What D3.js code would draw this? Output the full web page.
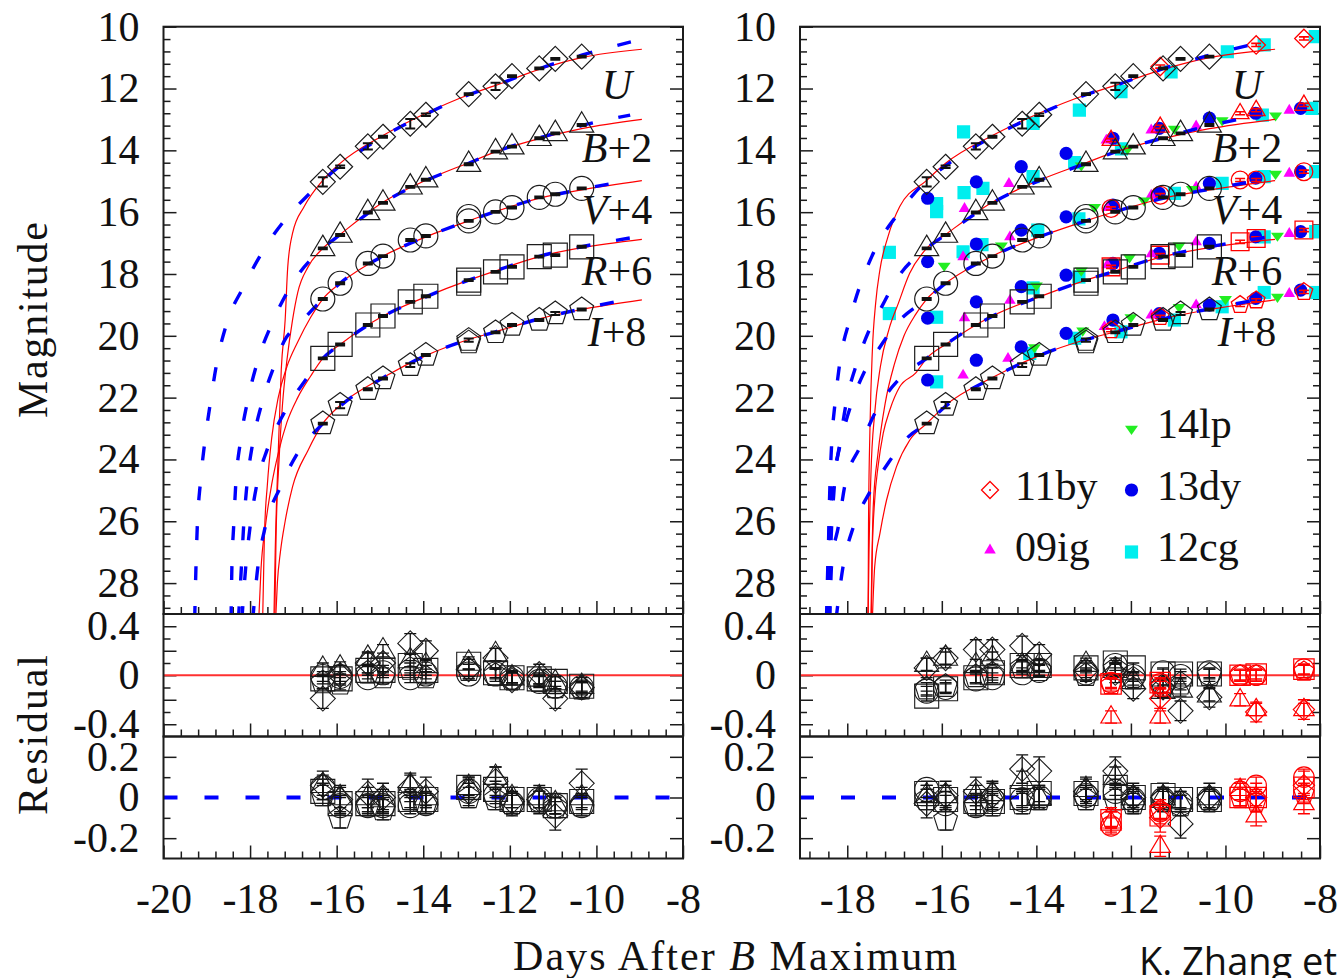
<!DOCTYPE html>
<html><head><meta charset="utf-8">
<script src="https://cdn.jsdelivr.net/npm/d3@7"></script>
<style>
body{margin:0;background:#fff}
svg{display:block}
text{font-family:"Liberation Serif",serif;fill:#111}
</style></head>
<body><svg id="c" width="1339" height="978"></svg>
<script>
// ---------------- DATA ----------------
const bandNames = ["U", "B", "V", "R", "I"];
const bandOffsets = ["", "+2", "+4", "+6", "+8"];
const xTickLeft = [-20, -18, -16, -14, -12, -10, -8];
const xTickRight = [-18, -16, -14, -12, -10, -8];
const yTickMain = [10, 12, 14, 16, 18, 20, 22, 24, 26, 28];
const yTickRes1 = [0.4, 0, -0.4];
const yTickRes2 = [0.2, 0, -0.2];

// black SN (shifted magnitudes as plotted)
const tBlack = [-16.32, -15.92, -15.28, -14.93, -14.30, -13.94, -12.95, -12.33, -11.95, -11.32, -10.95, -10.34];
const magU  = [15.02, 14.53, 13.87, 13.56, 13.14, 12.85, 12.18, 11.93, 11.60, 11.35, 11.04, 10.97];
const magB2 = [17.17, 16.74, 16.01, 15.70, 15.18, 14.95, 14.45, 14.04, 13.88, 13.61, 13.45, 13.18];
const magV4 = [18.81, 18.30, 17.66, 17.42, 16.90, 16.77, 16.28, 15.99, 15.85, 15.52, 15.42, 15.23];
const magR6 = [20.73, 20.28, 19.65, 19.36, 18.90, 18.72, 18.20, 17.93, 17.77, 17.44, 17.39, 17.12];
const magI8 = [22.84, 22.24, 21.73, 21.38, 20.95, 20.62, 20.14, 19.89, 19.65, 19.49, 19.28, 19.15];
const errU  = [0.15, 0.04, 0.10, 0.03, 0.15, 0.04, 0.03, 0.12, 0.03, 0.03, 0.03, 0.03];
const errB2 = [0.03, 0.03, 0.03, 0.03, 0.03, 0.03, 0.03, 0.03, 0.03, 0.03, 0.03, 0.03];
const errV4 = [0.03, 0.03, 0.03, 0.03, 0.03, 0.03, 0.03, 0.03, 0.03, 0.03, 0.03, 0.03];
const errR6 = [0.03, 0.03, 0.03, 0.03, 0.03, 0.03, 0.03, 0.03, 0.03, 0.03, 0.03, 0.03];
const errI8 = [0.03, 0.10, 0.03, 0.03, 0.06, 0.03, 0.05, 0.03, 0.03, 0.03, 0.05, 0.03];
const dupT = [-12.95, -12.95, -12.95];
const dupBand = [2, 3, 4];
const dupMag = [16.14, 18.30, 20.22];

// comparison SNe (right panel)
const t12cg = [-17.11,-17.11,-16.11,-16.11,-16.11,-16.11,-15.54,-15.53,-15.13,-15.55,-15.15,-14.07,-14.07,-13.97,-14.07,-14.14,-13.09,-13.19,-13.10,-13.10,-13.19,-12.21,-12.20,-12.21,-11.15,-11.08,-11.08,-9.96,-10.07,-10.07,-9.18,-9.22,-9.18,-9.18,-9.18,-8.10,-8.17,-8.09,-8.09,-8.09];
const m12cg = [17.30,19.28,15.72,15.98,19.40,21.49,13.40,15.37,15.23,17.28,17.05,13.13,14.85,16.58,18.45,20.57,12.70,14.40,16.22,18.10,20.08,12.10,13.95,19.87,11.46,15.39,19.49,10.81,15.07,19.06,10.59,12.86,14.85,16.80,18.60,10.32,12.64,14.69,16.63,18.60];
const t13dy = [-16.30,-15.27,-14.32,-13.37,-12.38,-11.40,-10.34,-9.36,-8.41];
const m13dyB = [15.55, 15.02, 14.53, 14.10, 13.61, 13.29, 12.96, 12.80, 12.64];
const m13dyV = [17.60, 17.03, 16.58, 16.15, 15.77, 15.39, 15.07, 14.90, 14.69];
const m13dyR = [19.43, 18.90, 18.41, 18.04, 17.66, 17.33, 17.01, 16.80, 16.63];
const m13dyI = [21.43, 20.79, 20.36, 19.92, 19.49, 19.28, 19.01, 18.79, 18.52];
const t09ig = [-15.52,-14.58,-15.55,-14.56,-15.52,-14.56,-15.55,-14.60,-12.52,-11.57,-10.62,-8.65,-12.50,-11.57,-10.62,-8.65,-12.50,-11.57,-10.62,-8.65,-12.56,-11.57,-10.62,-8.65];
const m09ig = [15.88,15.07,17.44,16.80,19.42,18.85,21.27,20.73,13.67,13.34,13.21,12.70,15.85,15.45,15.18,14.74,17.70,17.35,16.96,16.69,19.70,19.33,19.00,18.63];
const t14lp = [-15.95,-14.74,-14.00,-14.04,-13.05,-12.07,-11.08,-10.07,-8.94,-12.77,-11.72,-10.70,-8.94,-13.05,-12.03,-10.98,-8.90,-13.02,-12.00,-10.98,-10.00,-8.90];
const m14lp = [17.77,17.12,18.41,20.41,14.53,13.99,13.34,13.07,12.91,15.87,15.66,15.29,14.80,17.93,17.50,17.12,16.80,19.87,19.44,19.11,18.85,18.78];
const t11by = [-12.42, -11.38, -9.69, -9.35, -8.34];
const m11U = [null, 11.29, null, 10.59, 10.38];
const m11B = [13.67, 13.24, 12.80, 12.70, 12.53];
const m11V = [15.88, 15.45, 14.96, 14.96, 14.69];
const m11R = [17.77, 17.39, 16.96, 16.85, 16.58];
const m11I = [19.82, 19.39, 19.00, 18.85, 18.58];

// model curves: [day, magnitude]
const redUpU = [[-8.95,10.73],[-10.34,11.0],[-11.32,11.38],[-12.33,11.9],[-12.95,12.2],[-13.94,12.8],[-14.93,13.52],[-15.92,14.42],[-16.32,14.97]];
const redUpB = [[-8.95,13.0],[-10.34,13.3],[-11.32,13.62],[-12.33,14.05],[-12.95,14.4],[-13.94,14.97],[-14.93,15.68],[-15.92,16.72],[-16.32,17.17]];
const redUpV = [[-8.95,14.98],[-10.34,15.28],[-11.32,15.55],[-12.33,15.98],[-12.95,16.28],[-13.94,16.8],[-14.93,17.42],[-15.92,18.3],[-16.32,18.81]];
const redUpR = [[-8.95,16.88],[-10.34,17.15],[-11.32,17.44],[-12.33,17.9],[-12.95,18.2],[-13.94,18.74],[-14.93,19.36],[-15.92,20.28],[-16.32,20.73]];
const redUpI = [[-8.95,18.84],[-10.34,19.15],[-11.32,19.45],[-12.33,19.87],[-12.95,20.12],[-13.94,20.64],[-14.93,21.35],[-15.92,22.25],[-16.32,22.84]];
const blueUpU = [[-9.17,10.48],[-10.34,10.92],[-11.32,11.36],[-12.33,11.9],[-12.95,12.2],[-13.94,12.83],[-14.93,13.56],[-15.92,14.5],[-16.32,14.98]];
const blueUpB = [[-9.22,12.86],[-10.34,13.2],[-11.32,13.6],[-12.33,14.05],[-12.95,14.42],[-13.94,14.98],[-14.93,15.7],[-15.92,16.73],[-16.32,17.17]];
const blueUpV = [[-9.22,14.96],[-10.34,15.26],[-11.32,15.55],[-12.33,15.98],[-12.95,16.28],[-13.94,16.8],[-14.93,17.42],[-15.92,18.3],[-16.32,18.81]];
const blueUpR = [[-9.17,16.82],[-10.34,17.12],[-11.32,17.43],[-12.33,17.9],[-12.95,18.2],[-13.94,18.74],[-14.93,19.37],[-15.92,20.28],[-16.32,20.73]];
const blueUpI = [[-9.17,18.79],[-10.34,19.13],[-11.32,19.45],[-12.33,19.87],[-12.95,20.12],[-13.94,20.64],[-14.93,21.36],[-15.92,22.28],[-16.32,22.84]];

const redLowLeft = [
  [[-16.75,15.82],[-17.02,16.69],[-17.13,17.77],[-17.19,19.49],[-17.28,21.1],[-17.35,23.8],[-17.42,27.0],[-17.45,29.2]],
  [[-16.66,17.77],[-16.9,18.6],[-17.02,19.49],[-17.15,20.8],[-17.25,22.2],[-17.33,24],[-17.4,26.5],[-17.43,29.2]],
  [[-16.6,19.4],[-16.9,20.2],[-17.15,21.0],[-17.35,22.0],[-17.5,23.3],[-17.6,24.8],[-17.67,26.5],[-17.71,29.2]],
  [[-16.6,21.3],[-16.9,22.0],[-17.15,22.8],[-17.35,23.8],[-17.5,24.8],[-17.65,26.2],[-17.75,27.6],[-17.8,29.2]],
  [[-16.66,23.7],[-17.02,24.89],[-17.19,26.0],[-17.3,27],[-17.37,28],[-17.41,29.2]]
];
const redLowRight = [
  [[-16.89,15.82],[-17.14,16.8],[-17.31,17.87],[-17.40,18.95],[-17.47,20.5],[-17.52,23],[-17.55,26],[-17.56,29.2]],
  [[-16.68,17.98],[-16.92,18.95],[-17.12,19.8],[-17.3,21],[-17.42,22.5],[-17.5,24.5],[-17.54,27],[-17.56,29.2]],
  [[-16.55,19.3],[-16.8,20.0],[-17.0,20.9],[-17.2,22.2],[-17.35,23.8],[-17.45,25.5],[-17.5,29.2]],
  [[-16.55,21.2],[-16.89,21.65],[-17.1,22.4],[-17.24,23.16],[-17.35,24.24],[-17.42,25.32],[-17.47,26.94],[-17.49,29.2]],
  [[-16.68,23.38],[-16.96,24.24],[-17.17,25.32],[-17.31,26.4],[-17.42,27.47],[-17.47,29.2]]
];
const blueLowLeft = [
  [[-16.7,15.5],[-17.07,16.04],[-17.69,17.23],[-18.15,18.41],[-18.54,19.6],[-18.77,20.89],[-18.92,22.19],[-19.05,23.48],[-19.15,24.78],[-19.22,26.18],[-19.25,27.47],[-19.28,29.2]],
  [[-16.92,18.09],[-17.46,19.49],[-17.84,20.89],[-18.07,22.19],[-18.23,23.48],[-18.33,24.78],[-18.38,26.18],[-18.42,27.47],[-18.44,29.2]],
  [[-16.85,19.6],[-17.22,20.19],[-17.42,20.89],[-17.73,22.19],[-17.94,23.48],[-18.07,24.78],[-18.15,26.18],[-18.2,27.47],[-18.27,29.2]],
  [[-16.72,21.43],[-17.22,22.51],[-17.61,23.7],[-17.84,24.78],[-18.0,26.18],[-18.1,27.47],[-18.19,29.2]],
  [[-16.91,23.81],[-17.3,24.89],[-17.65,26.18],[-17.82,27.47],[-17.94,29.2]]
];
const blueLowRight = [
  [[-16.92,16.04],[-17.42,17.23],[-17.94,19.44],[-18.16,20.9],[-18.26,22.19],[-18.33,23.48],[-18.37,25],[-18.4,27],[-18.42,29.2]],
  [[-16.92,18.09],[-17.31,19.17],[-17.56,19.9],[-17.8,20.9],[-18.0,22.0],[-18.15,23.4],[-18.28,25],[-18.35,27],[-18.38,29.2]],
  [[-16.89,19.5],[-17.35,20.46],[-17.65,21.2],[-17.91,22.19],[-18.16,23.59],[-18.3,24.78],[-18.37,26.07],[-18.41,27.37],[-18.44,29.2]],
  [[-16.89,21.38],[-17.38,22.4],[-17.73,23.59],[-18.05,24.83],[-18.19,26.18],[-18.33,27.37],[-18.37,29.2]],
  [[-16.71,23.27],[-17.14,24.13],[-17.52,25.05],[-17.87,26.18],[-18.09,27.47],[-18.24,29.2]]
];

// residuals (rows: U,B,V,R,I over tBlack)
const res1Left = [
  [-0.19, 0.00, 0.10, 0.10, 0.26, 0.20, 0.05, 0.14, -0.04, 0.01, -0.19, -0.10],
  [0.05, 0.06, 0.14, 0.20, 0.12, 0.08, 0.10, 0.17, -0.02, -0.03, -0.06, -0.09],
  [-0.01, -0.01, -0.02, 0.02, -0.02, 0.01, 0.01, 0.01, -0.02, -0.05, -0.09, -0.10],
  [-0.03, -0.03, 0.04, 0.04, 0.08, 0.04, 0.09, 0.02, -0.02, -0.03, -0.05, -0.09],
  [-0.06, -0.07, 0.02, -0.02, 0.05, -0.02, 0.04, 0.00, -0.03, -0.05, -0.10, -0.11]
];
const res1Right = [
  [0.06, 0.14, 0.21, 0.21, 0.24, 0.17, 0.04, 0.02, -0.11, -0.10, -0.29, -0.18],
  [0.09, 0.14, 0.08, 0.14, 0.08, 0.08, 0.09, 0.04, -0.05, -0.13, -0.12, -0.16],
  [-0.13, -0.10, -0.03, -0.02, 0.02, 0.04, 0.02, 0.08, -0.01, 0.02, -0.01, 0.02],
  [-0.17, -0.11, -0.02, 0.02, 0.08, 0.08, 0.06, 0.10, 0.06, 0.01, 0.01, 0.01],
  [-0.11, -0.09, -0.01, 0.01, 0.06, 0.04, 0.00, 0.05, -0.03, -0.09, -0.07, 0.00]
];
const res2Left = [
  [0.06, -0.01, 0.02, 0.00, 0.05, 0.03, 0.03, 0.08, -0.02, -0.01, -0.09, 0.07],
  [0.06, 0.00, 0.00, -0.01, 0.06, 0.00, 0.05, 0.10, 0.00, 0.00, -0.03, 0.00],
  [0.05, -0.04, -0.04, -0.04, -0.04, -0.03, 0.03, 0.01, -0.03, -0.01, -0.04, -0.04],
  [0.03, -0.03, -0.03, -0.03, -0.01, -0.01, 0.05, 0.04, -0.01, -0.01, -0.04, -0.02],
  [0.01, -0.10, -0.04, -0.06, -0.01, -0.03, 0.00, -0.01, -0.03, -0.02, -0.05, -0.04]
];
const res2Right = [
  [-0.03, 0.01, 0.03, 0.01, 0.14, 0.13, 0.03, 0.13, 0.00, 0.00, -0.13, 0.00],
  [0.01, 0.01, 0.01, 0.02, 0.08, 0.00, 0.04, 0.10, 0.00, 0.00, -0.02, 0.00],
  [0.04, -0.03, -0.04, -0.01, -0.01, 0.00, 0.01, 0.03, -0.01, -0.01, -0.03, -0.01],
  [0.02, -0.01, -0.02, -0.02, 0.00, 0.02, 0.02, 0.05, 0.00, 0.01, -0.01, -0.01],
  [-0.01, -0.11, -0.04, -0.04, -0.03, -0.01, -0.01, -0.01, -0.03, -0.01, -0.04, -0.01]
];
const res1By = [
  [null, -0.19, null, -0.30, -0.28],
  [-0.34, -0.34, -0.20, -0.28, -0.28],
  [-0.06, -0.07, 0.00, 0.00, 0.05],
  [-0.07, -0.06, 0.00, 0.01, 0.05],
  [-0.08, -0.10, 0.00, 0.00, 0.03]
];
const res2By = [
  [null, -0.10, null, 0.00, 0.06],
  [-0.12, -0.24, 0.04, -0.09, -0.03],
  [-0.14, -0.07, 0.03, 0.06, 0.10],
  [-0.11, -0.09, 0.00, 0.00, 0.05],
  [-0.10, -0.06, 0.00, -0.02, 0.02]
];
const resErr1 = [0.08, 0.05, 0.04, 0.04, 0.05];
const resErr2 = [0.07, 0.05, 0.04, 0.04, 0.05];

// ---------------- DRAWING ----------------
const svg = d3.select("#c");
const Y0 = 26.7, Y1 = 614, Y2 = 736.5, Y3 = 858.5;
const yM = d3.scaleLinear().domain([10, 29]).range([Y0, Y1]);
const yR1 = d3.scaleLinear().domain([0.5, -0.5]).range([Y1, Y2]);
const yR2 = d3.scaleLinear().domain([0.3, -0.3]).range([Y2, Y3]);
const INK = "#1c1c1c";
const C = {red: "#ff0000", blue: "#0000ff", cyan: "#00eeee", mag: "#ff00ff", green: "#22ee22", dot: "#0000ee"};

const bandShape = ["diamond", "triangle", "circle", "square", "pentagon"];
const bandSize = [12.5, 12, 12, 12, 12.5];
const blackMags = [magU, magB2, magV4, magR6, magI8];
const blackErrs = [errU, errB2, errV4, errR6, errI8];
const by11 = [m11U, m11B, m11V, m11R, m11I];
const m13 = [m13dyB, m13dyV, m13dyR, m13dyI];

function shape(type, s) {
  switch (type) {
    case "diamond": return `M0,${-s}L${s},0L0,${s}L${-s},0Z`;
    case "square": return `M${-s},${-s}H${s}V${s}H${-s}Z`;
    case "circle": return `M${s},0A${s},${s} 0 1,1 ${-s},0A${s},${s} 0 1,1 ${s},0Z`;
    case "triangle": return `M0,${-1.1*s}L${s},${0.6*s}L${-s},${0.6*s}Z`;
    case "tridown": return `M0,${0.75*s}L${s},${-0.65*s}L${-s},${-0.65*s}Z`;
    case "pentagon": {
      const p = d3.range(5).map(k => { const a = -Math.PI/2 + k*2*Math.PI/5; return [(s*Math.cos(a)).toFixed(2), (s*Math.sin(a)).toFixed(2)]; });
      return "M" + p.map(q => q.join(",")).join("L") + "Z";
    }
  }
}
function marker(g, type, s, cx, cy, stroke, fill, sw) {
  g.append("path").attr("d", shape(type, s)).attr("transform", `translate(${cx},${cy})`)
    .attr("fill", fill || "none").attr("stroke", stroke || "none").attr("stroke-width", sw || 1.2);
}
function errBar(g, cx, yTop, yBot, capW, color, sw) {
  g.append("path").attr("d", `M${cx},${yTop}V${yBot}M${cx-capW/2},${yTop}h${capW}M${cx-capW/2},${yBot}h${capW}`)
    .attr("fill", "none").attr("stroke", color).attr("stroke-width", sw);
}
function styleAxis(g) {
  g.select(".domain").remove();
  g.selectAll("line").attr("stroke", INK).attr("stroke-width", 1.5);
  g.attr("font-family", "'Liberation Serif', serif").attr("font-size", 42);
  g.selectAll("text").attr("fill", "#111");
}
const fmt = d => (d === 0 ? "0" : String(d));

function xMinors(domain, base) {
  const out = [];
  for (let i = -10; i <= 40; i++) {
    const v = Math.round((base + i*0.4)*10)/10;
    if (v < domain[0] - 1e-9 || v > domain[1] + 1e-9) continue;
    if (Number.isInteger(v) && v % 2 === 0) continue;
    out.push(v);
  }
  return out;
}

const panels = [
  {key: "L", x0: 163.5, x1: 683, domain: [-20, -8], xt: xTickLeft, labX: 617,
   redLow: redLowLeft, blueLow: blueLowLeft, r1: res1Left, r2: res2Left, others: false},
  {key: "R", x0: 800, x1: 1320, domain: [-19, -8], xt: xTickRight, labX: 1247,
   redLow: redLowRight, blueLow: blueLowRight, r1: res1Right, r2: res2Right, others: true}
];
const redUps = [redUpU, redUpB, redUpV, redUpR, redUpI];
const blueUps = [blueUpU, blueUpB, blueUpV, blueUpR, blueUpI];

const defs = svg.append("defs");

panels.forEach(p => {
  const x = d3.scaleLinear().domain(p.domain).range([p.x0, p.x1]);
  const W = p.x1 - p.x0;
  defs.append("clipPath").attr("id", "clip" + p.key).append("rect")
    .attr("x", p.x0).attr("y", Y0).attr("width", W).attr("height", Y1 - Y0);
  defs.append("clipPath").attr("id", "clipr" + p.key).append("rect")
    .attr("x", p.x0).attr("y", Y1).attr("width", W).attr("height", Y3 - Y1);

  // ---- axes/ticks ----
  const minorMain = d3.range(0, 48).map(i => Math.round((10 + i*0.4)*10)/10).filter(v => !(Number.isInteger(v) && v % 2 === 0));
  const minorR1 = [0.3, 0.1, -0.1, -0.3];
  const majR1 = [0.4, 0.2, 0, -0.2, -0.4];
  const minorR2 = [0.1, -0.1];
  [[yM, yTickMain, minorMain, yTickMain], [yR1, majR1, minorR1, yTickRes1], [yR2, yTickRes2, minorR2, yTickRes2]].forEach(([sc, maj, mn, lab]) => {
    styleAxis(svg.append("g").attr("transform", `translate(${p.x0},0)`)
      .call(d3.axisLeft(sc).tickValues(maj).tickSize(-13).tickPadding(24).tickFormat(d => lab.includes(d) ? fmt(d) : "")));
    styleAxis(svg.append("g").attr("transform", `translate(${p.x0},0)`)
      .call(d3.axisLeft(sc).tickValues(mn).tickSize(-7).tickFormat("")));
    styleAxis(svg.append("g").attr("transform", `translate(${p.x1},0)`)
      .call(d3.axisRight(sc).tickValues(maj).tickSize(-13).tickFormat("")));
    styleAxis(svg.append("g").attr("transform", `translate(${p.x1},0)`)
      .call(d3.axisRight(sc).tickValues(mn).tickSize(-7).tickFormat("")));
  });
  const xmin = xMinors(p.domain, -18);
  [Y1, Y2, Y3].forEach((yb, i) => {
    styleAxis(svg.append("g").attr("transform", `translate(0,${yb})`)
      .call(d3.axisBottom(x).tickValues(p.xt).tickSize(-13).tickPadding(25).tickFormat(i === 2 ? fmt : "")));
    styleAxis(svg.append("g").attr("transform", `translate(0,${yb})`)
      .call(d3.axisBottom(x).tickValues(xmin).tickSize(-7).tickFormat("")));
  });

  // ---- main plot ----
  const gm = svg.append("g").attr("clip-path", `url(#clip${p.key})`);
  if (p.others) {
    t12cg.forEach((t, i) => marker(gm, "square", 6.6, x(t), yM(m12cg[i]), null, C.cyan));
    m13.forEach(arr => arr.forEach((m, i) => marker(gm, "circle", 6.6, x(t13dy[i]), yM(m), null, C.dot)));
    t09ig.forEach((t, i) => marker(gm, "triangle", 5.8, x(t), yM(m09ig[i]), null, C.mag));
    t14lp.forEach((t, i) => marker(gm, "tridown", 6.5, x(t), yM(m14lp[i]), null, C.green));
    by11.forEach((arr, b) => arr.forEach((m, i) => {
      if (m === null) return;
      const cx = x(t11by[i]);
      errBar(gm, cx, yM(m - 0.05), yM(m + 0.05), 10, C.red, 1.6);
      marker(gm, bandShape[b], bandSize[b]*0.74, cx, yM(m), C.red, null, 1.3);
    }));
  }
  const line = d3.line().x(d => x(d[0])).y(d => yM(d[1])).curve(d3.curveMonotoneX);
  bandNames.forEach((bn, b) => {
    const red = d3.sort(redUps[b].concat(p.redLow[b]), d => d[0]);
    gm.append("path").attr("d", line(red)).attr("fill", "none").attr("stroke", C.red).attr("stroke-width", 1.2);
  });
  bandNames.forEach((bn, b) => {
    const blue = d3.sort(blueUps[b].concat(p.blueLow[b]), d => d[0]);
    gm.append("path").attr("d", line(blue)).attr("fill", "none").attr("stroke", C.blue)
      .attr("stroke-width", 3.4).attr("stroke-dasharray", "14,26");
  });
  blackMags.forEach((arr, b) => arr.forEach((m, i) => {
    const cx = x(tBlack[i]);
    marker(gm, bandShape[b], bandSize[b], cx, yM(m), INK, null, 1.2);
    errBar(gm, cx, yM(m - blackErrs[b][i]), yM(m + blackErrs[b][i]), 10, "#111", 2);
  }));
  dupT.forEach((t, i) => marker(gm, bandShape[dupBand[i]], bandSize[dupBand[i]], x(t), yM(dupMag[i]), INK, null, 1.1));

  // band labels
  bandNames.forEach((bn, b) => {
    const ymid = [99, 162, 224, 285, 346][b];
    const tx = svg.append("text").attr("x", p.labX).attr("y", ymid).attr("text-anchor", "middle").attr("font-size", 42);
    tx.append("tspan").attr("font-style", "italic").text(bn);
    if (bandOffsets[b]) tx.append("tspan").text(bandOffsets[b]);
  });

  // ---- residuals ----
  const gr = svg.append("g").attr("clip-path", `url(#clipr${p.key})`);
  gr.append("line").attr("x1", p.x0).attr("x2", p.x1).attr("y1", yR1(0)).attr("y2", yR1(0))
    .attr("stroke", "#ff3030").attr("stroke-width", 2);
  gr.append("line").attr("x1", p.x0).attr("x2", p.x1).attr("y1", yR2(0)).attr("y2", yR2(0))
    .attr("stroke", C.blue).attr("stroke-width", 4).attr("stroke-dasharray", "14,27");
  [[p.r1, yR1, resErr1, res1By], [p.r2, yR2, resErr2, res2By]].forEach(([rs, ys, er, rb]) => {
    rs.forEach((arr, b) => arr.forEach((v, i) => {
      const cx = x(tBlack[i]);
      errBar(gr, cx, ys(v + er[b]), ys(v - er[b]), 12, "#111", 1.3);
      marker(gr, bandShape[b], bandSize[b], cx, ys(v), INK, null, 1.1);
    }));
    if (p.others) {
      rb.forEach((arr, b) => arr.forEach((v, i) => {
        if (v === null) return;
        const cx = x(t11by[i]);
        errBar(gr, cx, ys(v + er[b]), ys(v - er[b]), 12, C.red, 1.3);
        marker(gr, bandShape[b], bandSize[b]*0.85, cx, ys(v), C.red, null, 1.2);
      }));
    }
  });

  // frames
  [[Y0, Y1], [Y1, Y2], [Y2, Y3]].forEach(([a, bb]) => {
    svg.append("rect").attr("x", p.x0).attr("y", a).attr("width", W).attr("height", bb - a)
      .attr("fill", "none").attr("stroke", INK).attr("stroke-width", 2);
  });
});

// legend (right panel)
const legRows = [
  {name: "14lp", col: 1, y: 430, base: 438},
  {name: "11by", col: 0, y: 490, base: 500},
  {name: "13dy", col: 1, y: 490, base: 500},
  {name: "09ig", col: 0, y: 550, base: 561},
  {name: "12cg", col: 1, y: 552, base: 561}
];
const legX = [990, 1131.5], legTX = [1015, 1157];
const lg = svg.append("g");
legRows.forEach(r => {
  const cx = legX[r.col];
  if (r.name === "14lp") marker(lg, "tridown", 6.5, cx, r.y, null, C.green);
  if (r.name === "11by") { marker(lg, "diamond", 8.5, cx, r.y, C.red, null, 1.3); lg.append("circle").attr("cx", cx).attr("cy", r.y).attr("r", 1).attr("fill", C.red); }
  if (r.name === "13dy") marker(lg, "circle", 6.6, cx, r.y, null, C.dot);
  if (r.name === "09ig") marker(lg, "triangle", 5.8, cx, r.y, null, C.mag);
  if (r.name === "12cg") marker(lg, "square", 6.6, cx, r.y, null, C.cyan);
  lg.append("text").attr("x", legTX[r.col]).attr("y", r.base).attr("font-size", 42).text(r.name);
});

// axis titles
svg.append("text").attr("transform", "translate(47,320) rotate(-90)").attr("text-anchor", "middle")
  .attr("font-size", 42).attr("textLength", 196).attr("lengthAdjust", "spacing").text("Magnitude");
svg.append("text").attr("transform", "translate(47,735) rotate(-90)").attr("text-anchor", "middle")
  .attr("font-size", 42).attr("textLength", 160).attr("lengthAdjust", "spacing").text("Residual");
const xt = svg.append("text").attr("x", 735).attr("y", 970).attr("text-anchor", "middle").attr("font-size", 42)
  .attr("textLength", 444).attr("lengthAdjust", "spacing");
xt.append("tspan").text("Days After ");
xt.append("tspan").attr("font-style", "italic").text("B");
xt.append("tspan").text(" Maximum");

svg.append("text").attr("x", 1139).attr("y", 975).attr("font-size", 38)
  .style("font-family", "'Open Sans', sans-serif").attr("fill", "#222").text("K. Zhang et al.");
</script></body></html>
